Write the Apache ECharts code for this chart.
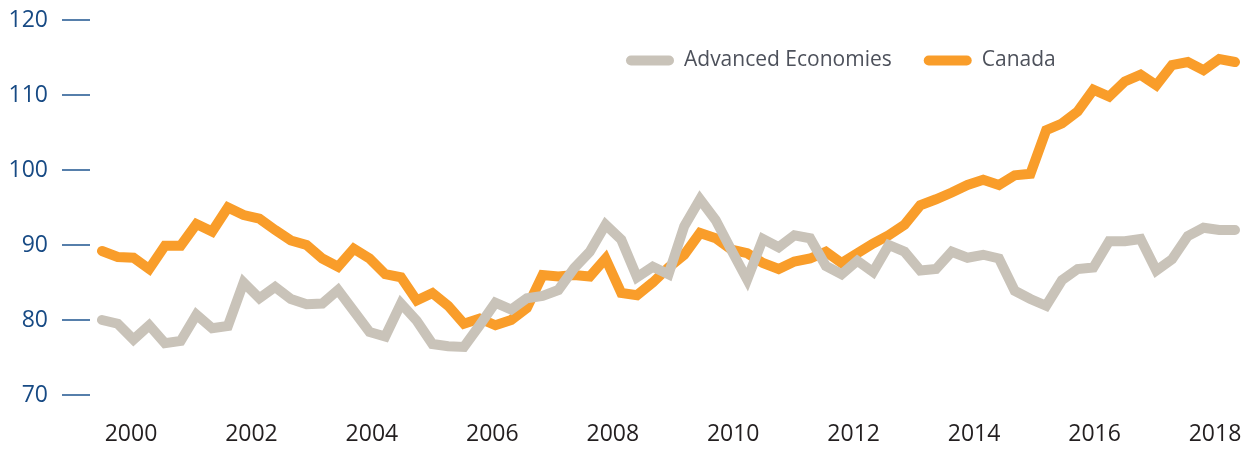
<!DOCTYPE html>
<html>
<head>
<meta charset="utf-8">
<script src="https://cdn.jsdelivr.net/npm/echarts@6/dist/echarts.min.js"></script>
<style>
  html, body { margin: 0; padding: 0; background: #fff; }
  #chart { width: 1250px; height: 449px; }
</style>
</head>
<body>
<div id="chart"></div>
<script>
// quarterly observations, 2000 Q1 .. 2018 Q1
const quarters = [];
for (let y = 2000; y <= 2018; y++) {
  for (let q = 1; q <= 4; q++) {
    if (quarters.length < 73) quarters.push(y + ' Q' + q);
  }
}

const firstYear = 2000;
const lastYear = 2018;

const advanced = [
  80.0, 79.5, 77.4, 79.3, 76.9, 77.2, 80.7, 78.9, 79.2, 85.0,
  82.9, 84.4, 82.8, 82.1, 82.2, 84.0, 81.2, 78.4, 77.8, 82.2,
  79.9, 76.8, 76.5, 76.4, 79.3, 82.3, 81.4, 82.9, 83.2, 84.0,
  86.9, 89.1, 92.7, 90.7, 85.7, 87.1, 86.1, 92.5, 96.1, 93.3,
  89.3, 85.4, 90.8, 89.7, 91.3, 90.9, 87.2, 86.1, 87.9, 86.4,
  90.0, 89.1, 86.6, 86.8, 89.1, 88.3, 88.7, 88.2, 83.9, 82.8,
  81.9, 85.3, 86.8, 87.0, 90.5, 90.5, 90.8, 86.6, 88.1, 91.2,
  92.3, 92.0, 92.0
];

const canada = [
  89.2, 88.4, 88.3, 86.8, 89.9, 89.9, 92.8, 91.8, 95.0, 94.0,
  93.5, 92.0, 90.6, 90.0, 88.2, 87.1, 89.5, 88.2, 86.1, 85.7,
  82.6, 83.6, 81.9, 79.5, 80.2, 79.3, 80.0, 81.6, 86.0, 85.8,
  86.0, 85.8, 88.2, 83.6, 83.3, 85.0, 87.0, 88.7, 91.6, 90.9,
  89.4, 88.9, 87.6, 86.8, 87.8, 88.2, 89.1, 87.6, 88.9, 90.2,
  91.3, 92.7, 95.3, 96.1, 97.0, 98.0, 98.7, 98.0, 99.3, 99.5,
  105.3, 106.2, 107.8, 110.7, 109.8, 111.8, 112.7, 111.3, 114.0, 114.4,
  113.3, 114.8, 114.4
];

const chart = echarts.init(document.getElementById('chart'));
const font = '"Open Sans", "Noto Sans", sans-serif';

const option = {
  animation: false,
  grid: [
    // plot area for the lines
    { left: 102, right: 15, top: 20, bottom: 54, outerBoundsMode: 'none' },
    // year label strip (labels sit between the quarterly points)
    { left: 131, right: 35, top: 20, bottom: 54, outerBoundsMode: 'none' }
  ],
  legend: {
    data: ['Advanced Economies', 'Canada'],
    left: 626,
    top: 50,
    padding: 0,
    itemWidth: 58,
    itemHeight: 10,
    itemGap: 32,
    icon: 'path://M5,0L43,0A5,5,0,0,1,43,10L5,10A5,5,0,0,1,5,0Z',
    textStyle: { fontFamily: font, fontSize: 21, color: '#4d515b' }
  },
  xAxis: [
    {
      type: 'category',
      gridIndex: 0,
      data: quarters,
      boundaryGap: false,
      show: false
    },
    {
      type: 'value',
      gridIndex: 1,
      min: firstYear,
      max: lastYear,
      interval: 2,
      axisLine: { show: false },
      axisTick: { show: false },
      splitLine: { show: false },
      axisLabel: {
        formatter: v => String(v),
        margin: 28,
        fontFamily: font,
        fontSize: 23,
        color: '#231f20'
      }
    }
  ],
  yAxis: [
    {
      type: 'value',
      gridIndex: 0,
      min: 70,
      max: 120,
      interval: 10,
      offset: 12,
      axisLine: { show: false },
      axisTick: {
        show: true,
        length: 28,
        lineStyle: { color: '#1f5590', width: 1.5 }
      },
      splitLine: { show: false },
      axisLabel: {
        margin: 42,
        fontFamily: font,
        fontSize: 23,
        color: '#174a84'
      }
    },
    {
      type: 'value',
      gridIndex: 1,
      show: false
    }
  ],
  series: [
    {
      name: 'Canada',
      type: 'line',
      xAxisIndex: 0,
      yAxisIndex: 0,
      data: canada,
      symbol: 'none',
      color: '#f99d2a',
      lineStyle: { width: 10, color: '#f99d2a', cap: 'round', join: 'miter' }
    },
    {
      name: 'Advanced Economies',
      type: 'line',
      xAxisIndex: 0,
      yAxisIndex: 0,
      data: advanced,
      symbol: 'none',
      color: '#c9c3b9',
      lineStyle: { width: 10, color: '#c9c3b9', cap: 'round', join: 'miter' }
    }
  ]
};

chart.setOption(option);
</script>
</body>
</html>
